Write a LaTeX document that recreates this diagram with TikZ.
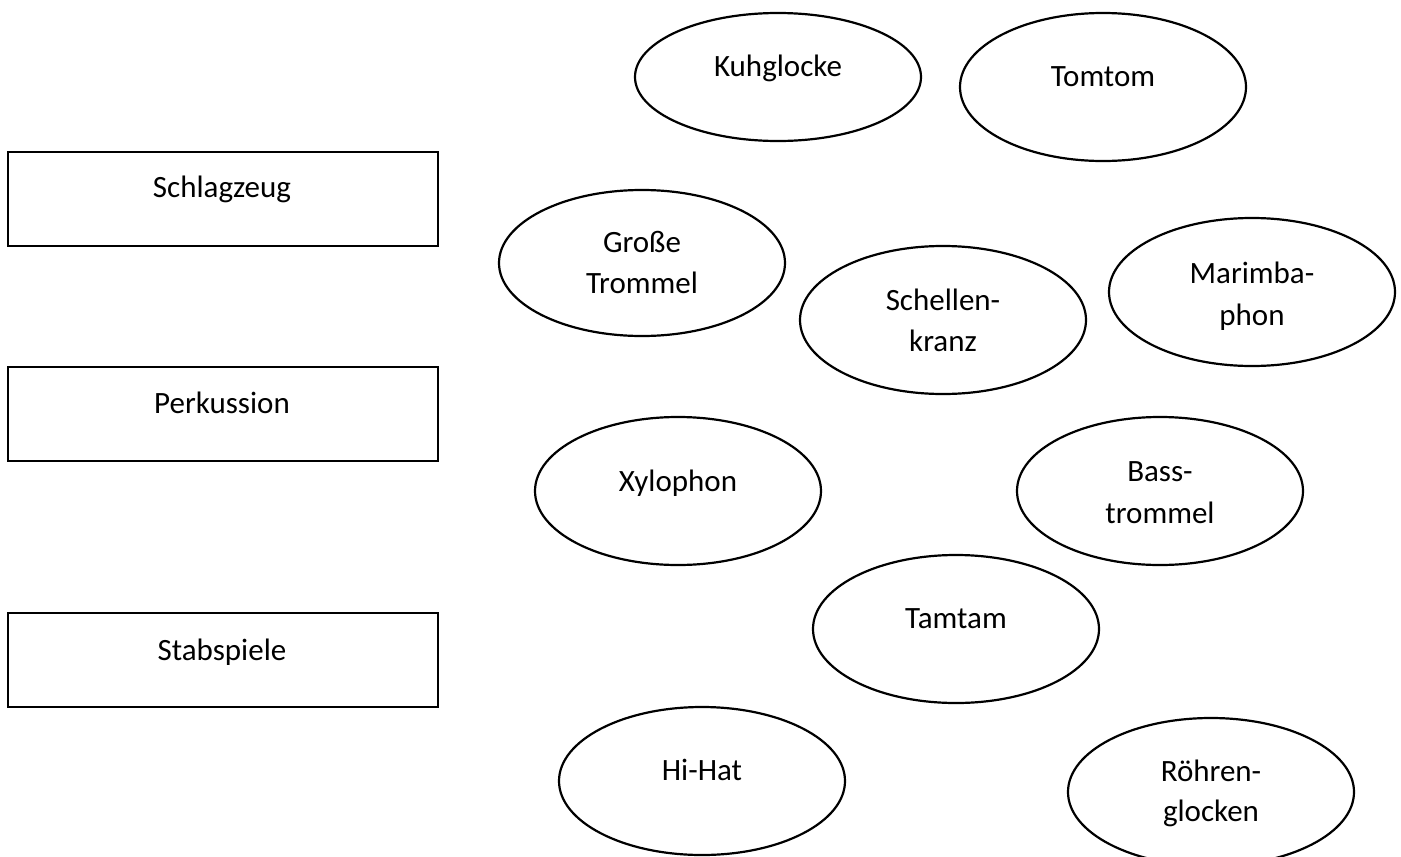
\documentclass[tikz,border=0pt]{standalone}
\usepackage{fontspec}
\setmainfont{Carlito}
\usetikzlibrary{shapes.geometric}
\tikzset{
  box/.style={draw, line width=2.2pt, rectangle, minimum width=430pt, minimum height=94pt, inner sep=0pt},
  ell/.style={draw, line width=2.2pt, ellipse, inner sep=0pt, minimum width=286pt, minimum height=148pt},
  txt/.style={anchor=base, inner sep=0pt, font=\fontsize{31}{38}\selectfont},
}
\begin{document}
\begin{tikzpicture}[x=1pt,y=-1pt]
\useasboundingbox (0,0) rectangle (1401,857);
% rectangles
\node[box] (schlag) at (223,199) {};
\node[box] (perk) at (223,414) {};
\node[box] (stab) at (223,660) {};
\node[txt] (tschlag) at (222,197) {Schlagzeug};
\node[txt] (tperk) at (222,413) {Perkussion};
\node[txt] (tstab) at (222,660) {Stabspiele};
% ellipses
\node[ell, minimum height=128pt] (kuh) at (778,77) {};
\node[ell] (tom) at (1103,87) {};
\node[ell, minimum height=146pt] (gross) at (642,263) {};
\node[ell] (schell) at (943,320) {};
\node[ell] (mar) at (1252,292) {};
\node[ell] (xyl) at (678,491) {};
\node[ell] (bass) at (1160,491) {};
\node[ell] (tam) at (956,629) {};
\node[ell] (hihat) at (702,781) {};
\node[ell] (roehr) at (1211,792) {};
% texts
\node[txt] at (778,76) {Kuhglocke};
\node[txt] at (1103,86) {Tomtom};
\node[txt] at (642,252) {Große};
\node[txt] at (642,293) {Trommel};
\node[txt] at (943,310) {Schellen-};
\node[txt] at (943,351) {kranz};
\node[txt] at (1252,283) {Marimba-};
\node[txt] at (1252,325) {phon};
\node[txt] at (678,491) {Xylophon};
\node[txt] at (1160,481) {Bass-};
\node[txt] at (1160,523) {trommel};
\node[txt] at (956,628) {Tamtam};
\node[txt] at (702,780) {Hi-Hat};
\node[txt] at (1211,781) {Röhren-};
\node[txt] at (1211,821) {glocken};
\end{tikzpicture}
\end{document}
